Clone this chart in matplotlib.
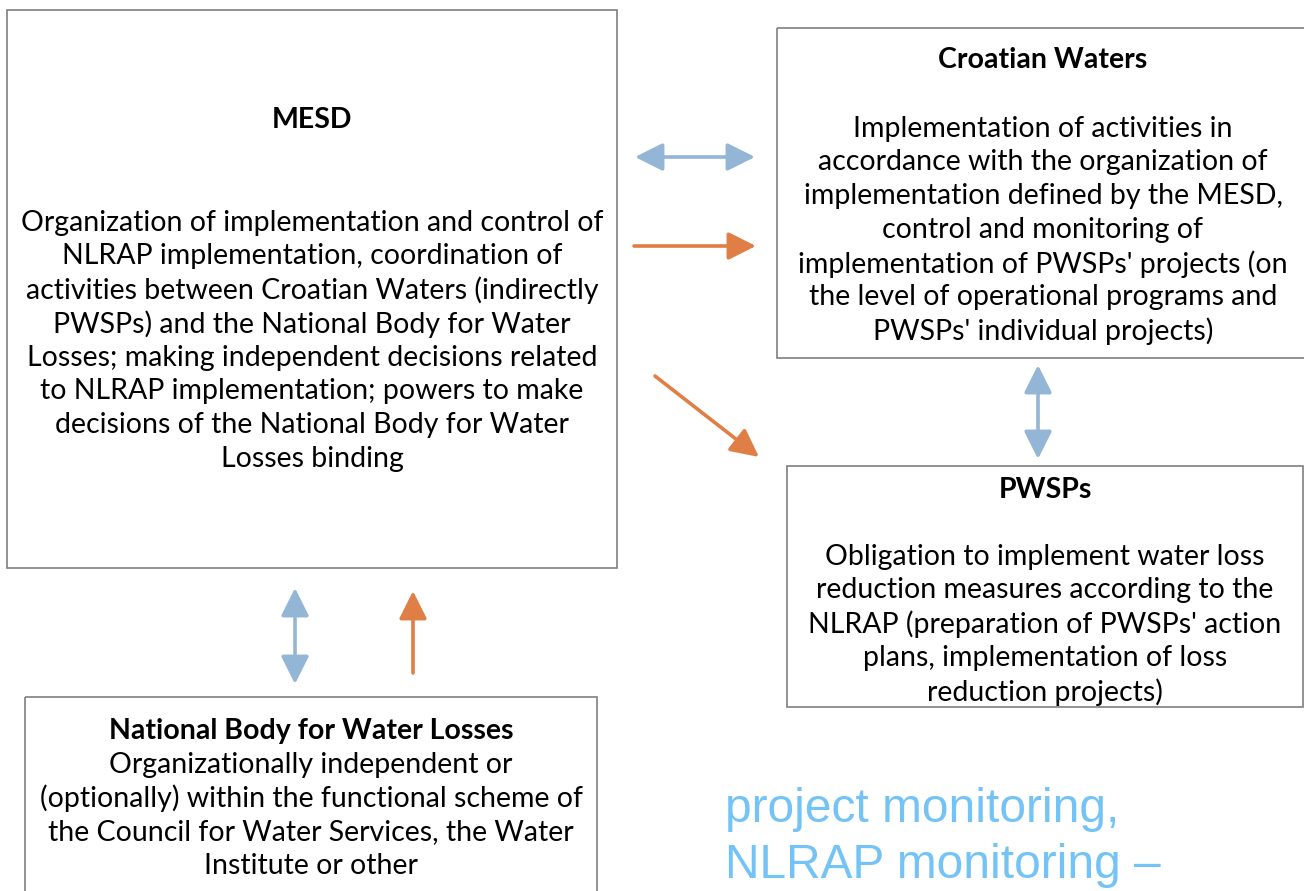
import matplotlib.pyplot as plt
from matplotlib.patches import Rectangle, FancyArrowPatch

# box contents
mesd_title = "MESD"
mesd_lines = [
    "Organization of implementation and control of",
    "NLRAP implementation, coordination of",
    "activities between Croatian Waters (indirectly",
    "PWSPs) and the National Body for Water",
    "Losses; making independent decisions related",
    "to NLRAP implementation; powers to make",
    "decisions of the National Body for Water",
    "Losses binding",
]
cw_title = "Croatian Waters"
cw_lines = [
    "Implementation of activities in",
    "accordance with the organization of",
    "implementation defined by the MESD,",
    "control and monitoring of",
    "implementation of PWSPs' projects (on",
    "the level of operational programs and",
    "PWSPs' individual projects)",
]
pw_title = "PWSPs"
pw_lines = [
    "Obligation to implement water loss",
    "reduction measures according to the",
    "NLRAP (preparation of PWSPs' action",
    "plans, implementation of loss",
    "reduction projects)",
]
nb_title = "National Body for Water Losses"
nb_lines = [
    "Organizationally independent or",
    "(optionally) within the functional scheme of",
    "the Council for Water Services, the Water",
    "Institute or other",
]
note_lines = ["project monitoring,", "NLRAP monitoring \u2013"]

BLUE = "#93b6d6"
ORANGE = "#e07f45"
FONT = "Lato"
FS = 20.5
STEP = 33.8

fig = plt.figure(figsize=(13.04, 8.91), dpi=100)
ax = fig.add_axes([0, 0, 1, 1])
ax.set_xlim(0, 1304)
ax.set_ylim(891, 0)
ax.axis("off")


def box(x0, y0, x1, y1):
    ax.add_patch(Rectangle((x0, y0), x1 - x0, y1 - y0, fill=False,
                           edgecolor="#7f7f7f", lw=1.2))


def block(cx, ty, title, lines, by):
    ax.text(cx, ty, title, ha="center", va="center_baseline", fontsize=FS,
            fontweight="bold", family=FONT)
    for i, line in enumerate(lines):
        ax.text(cx, by + i * STEP, line, ha="center", va="center_baseline",
                fontsize=FS, family=FONT)


def arrow(p0, p1, color, both=False):
    style = "<|-|>" if both else "-|>"
    ax.add_patch(FancyArrowPatch(
        p0, p1, arrowstyle=f"{style},head_length=17,head_width=8.5",
        mutation_scale=1, color=color, lw=2.6, shrinkA=0, shrinkB=0))


box(7, 10, 617, 568)
box(777, 28, 1306, 358)
box(787, 466, 1303, 707)
box(25, 697, 597, 895)

block(312, 118, mesd_title, mesd_lines, 220)
block(1043, 57, cw_title, cw_lines, 126)
block(1045, 488, pw_title, pw_lines, 554)
block(311, 728, nb_title, nb_lines, 762)

for i, line in enumerate(note_lines):
    ax.text(725, 805 + i * 56, line, ha="left", va="center_baseline",
            fontsize=34.5, family="Liberation Sans", color="#74c3f7")

arrow((635, 157), (755, 157), BLUE, both=True)
arrow((634, 246), (756, 246), ORANGE)
arrow((655, 376), (759, 457), ORANGE)
arrow((1038, 365), (1038, 459), BLUE, both=True)
arrow((295, 588), (295, 684), BLUE, both=True)
arrow((413, 673), (413, 591), ORANGE)

fig.savefig("out.png", dpi=100)
